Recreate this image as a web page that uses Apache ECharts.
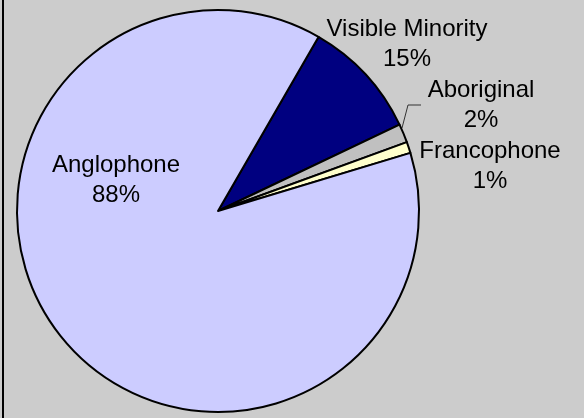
<!DOCTYPE html>
<html>
<head>
<meta charset="utf-8">
<script src="https://cdn.jsdelivr.net/npm/echarts@6/dist/echarts.min.js"></script>
<style>
  html, body { margin: 0; padding: 0; background: #cccccc; }
  #chart { width: 584px; height: 418px; }
</style>
</head>
<body>
<div id="chart"></div>
<script>
const groups = ['Visible Minority', 'Aboriginal', 'Francophone', 'Anglophone'];
const shares = [9.6, 1.5, 0.9, 88];
const shareLabels = ['15%', '2%', '1%', '88%'];
const colors = ['#000080', '#c0c0c0', '#ffffcc', '#ccccff'];

// label anchor points (centre of text block)
const labelPos = [[407, 44], [481, 105], [490, 166], [116, 180]];

let chartDom = document.getElementById('chart');
let myChart = echarts.init(chartDom);

const option = {
  backgroundColor: '#cccccc',
  animation: false,
  graphic: [{
    type: 'line',
    shape: { x1: 3, y1: 0, x2: 3, y2: 418 },
    style: { stroke: '#000', lineWidth: 2 }
  }, {
    // leader line for the thin Aboriginal slice
    type: 'polyline',
    shape: { points: [[402, 128], [408, 105], [421, 105]] },
    style: { stroke: '#333', lineWidth: 1, fill: null }
  }],
  series: [{
    type: 'pie',
    center: [218, 211],
    radius: 201,
    startAngle: 60,
    clockwise: true,
    silent: true,
    itemStyle: { borderColor: '#000', borderWidth: 2 },
    label: {
      show: true,
      position: 'inside',
      color: '#000',
      fontFamily: 'Liberation Sans, Arial, sans-serif',
      fontSize: 24,
      lineHeight: 30,
      align: 'center',
      formatter: p => p.name + '\n' + shareLabels[p.dataIndex]
    },
    labelLine: { show: false },
    labelLayout: function (params) {
      const i = params.dataIndex;
      return {
        x: labelPos[i][0],
        y: labelPos[i][1],
        align: 'center',
        verticalAlign: 'middle'
      };
    },
    data: groups.map((g, i) => ({
      name: g,
      value: shares[i],
      itemStyle: { color: colors[i] }
    }))
  }]
};
myChart.setOption(option);
</script>
</body>
</html>
